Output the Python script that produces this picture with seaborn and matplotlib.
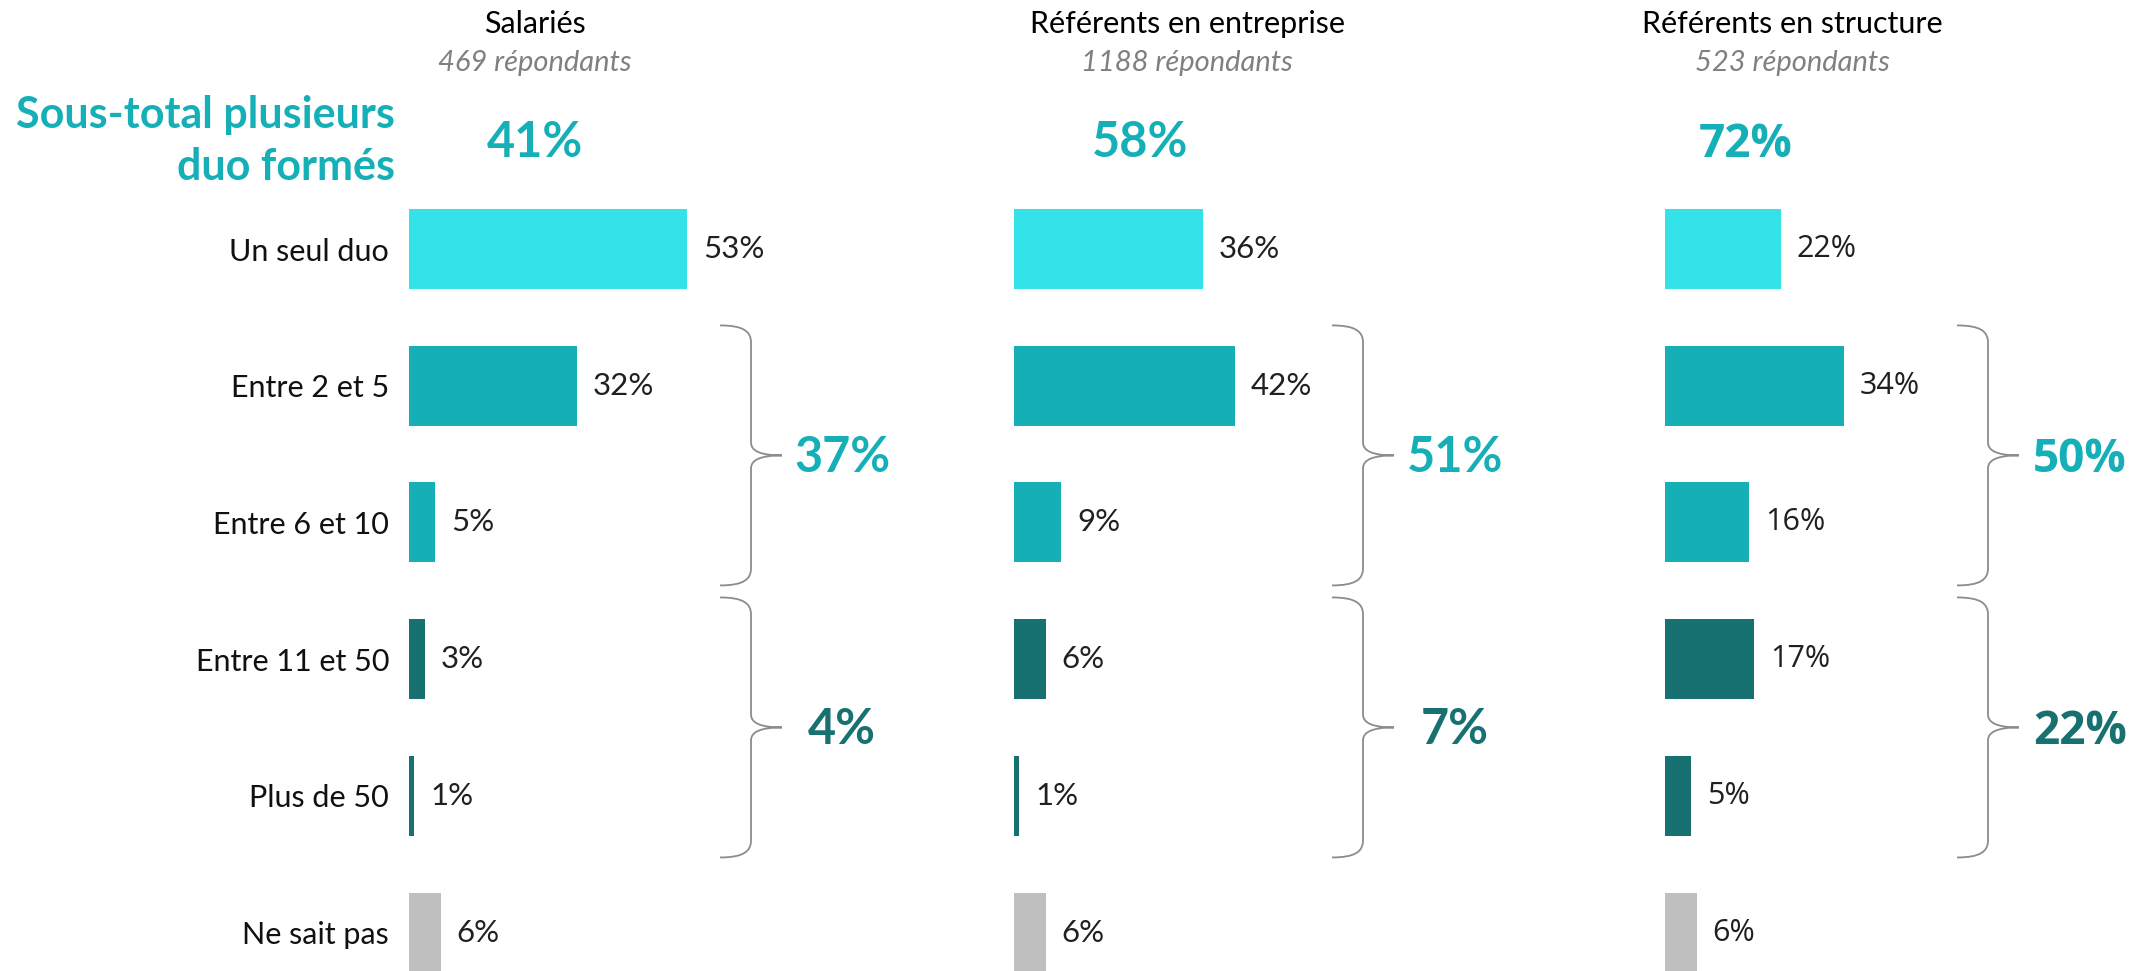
import matplotlib
matplotlib.use("Agg")
import matplotlib.pyplot as plt
from matplotlib.path import Path
from matplotlib.patches import PathPatch
import seaborn as sns
import pandas as pd

# ---------------- data ----------------
categories = ["Un seul duo", "Entre 2 et 5", "Entre 6 et 10",
              "Entre 11 et 50", "Plus de 50", "Ne sait pas"]
panel_titles = ["Salariés", "Référents en entreprise", "Référents en structure"]
respondents = ["469 répondants", "1188 répondants", "523 répondants"]
salaries = [53, 32, 5, 3, 1, 6]
ref_entreprise = [36, 42, 9, 6, 1, 6]
ref_structure = [22, 34, 16, 17, 5, 6]
subtotal_plusieurs = [41, 58, 72]
group_2_10 = [37, 51, 50]
group_11_plus = [4, 7, 22]
subtotal_label = "Sous-total plusieurs\nduo formés"

series = [salaries, ref_entreprise, ref_structure]

# ---------------- style ----------------
sns.set_style("white")
plt.rcParams["font.family"] = ["Lato", "DejaVu Sans"]

bar_colors = ["#34E2E9", "#14AFB7", "#14AFB7", "#187171", "#187171", "#BFBFBF"]
C_TEAL = "#14AFB7"
C_DARK = "#187171"
C_TEXT = "#231F20"
C_GREY = "#808080"
C_BRACE = "#8C8C8C"

W, H = 2154, 971
PX = 5.25      # pixels per percent
ROW = 136.7    # pixels per row
ROW0 = 249.0   # pixel y of first row centre
PT = 100 / 72  # px per pt

fig = plt.figure(figsize=(W / 100, H / 100), dpi=100)
fig.patch.set_facecolor("white")

panels = [
    dict(x0=409, w=560, title_dx=126, total_dx=126, brace_dx=311, label_dx=433, numfont="Lato", numsize=22.5, bigsize=35),
    dict(x0=1014, w=600, title_dx=173, total_dx=126, brace_dx=318, label_dx=441, numfont="Lato", numsize=22.5, bigsize=35),
    dict(x0=1665, w=489, title_dx=127, total_dx=81, brace_dx=292, label_dx=415, numfont="Open Sans", numsize=22, bigsize=33),
]


def X(dx):
    return dx / PX


def Y(py):
    return (py - ROW0) / ROW


def draw_brace(ax, left_dx, center_row, half_px):
    w = 31.0
    r1 = 17.0
    r2 = 13.0
    cy = center_row * ROW + ROW0
    top = cy - half_px
    bot = cy + half_px
    pts_px = [
        (0, top),
        (0.75 * w, top), (w, top + 0.35 * r1), (w, top + r1),
        (w, cy - r2),
        (w, cy - 0.35 * r2), (1.3 * w, cy), (2 * w, cy),
        (1.3 * w, cy), (w, cy + 0.35 * r2), (w, cy + r2),
        (w, bot - r1),
        (w, bot - 0.35 * r1), (0.75 * w, bot), (0, bot),
    ]
    codes = [Path.MOVETO,
             Path.CURVE4, Path.CURVE4, Path.CURVE4,
             Path.LINETO,
             Path.CURVE4, Path.CURVE4, Path.CURVE4,
             Path.CURVE4, Path.CURVE4, Path.CURVE4,
             Path.LINETO,
             Path.CURVE4, Path.CURVE4, Path.CURVE4]
    verts = [(X(left_dx + px), Y(py)) for px, py in pts_px]
    ax.add_patch(PathPatch(Path(verts, codes), facecolor="none",
                           edgecolor=C_BRACE, lw=1.3, clip_on=False))


for i, p in enumerate(panels):
    ax = fig.add_axes([p["x0"] / W, 0, p["w"] / W, 1])
    ax.patch.set_visible(False)
    df = pd.DataFrame({"category": categories, "value": series[i]})
    sns.barplot(data=df, x="value", y="category", hue="category",
                palette=bar_colors, saturation=1, width=0.585,
                legend=False, orient="h", ax=ax, linewidth=0)
    ax.set_xlim(0, X(p["w"]))
    ax.set_ylim(Y(H), Y(0))
    for s in ax.spines.values():
        s.set_visible(False)
    ax.set_xlabel("")
    ax.set_ylabel("")
    ax.set_xticks([])
    ax.tick_params(axis="y", length=0)
    if i == 0:
        ax.tick_params(axis="y", pad=20 / PT, labelsize=22, labelcolor="#111111")
    else:
        ax.tick_params(axis="y", labelleft=False)

    for c in ax.containers:
        ax.bar_label(c, fmt="{:.0f}%", padding=16 / PT, fontsize=p["numsize"],
                     color=C_TEXT, fontfamily=p["numfont"])

    # headers
    ax.text(X(p["title_dx"]), Y(33), panel_titles[i], ha="center", va="baseline",
            fontsize=22, color="black", clip_on=False)
    ax.text(X(p["title_dx"]), Y(71), respondents[i], ha="center", va="baseline",
            fontsize=21, color=C_GREY, style="italic", clip_on=False)
    ax.text(X(p["total_dx"]), Y(157), f"{subtotal_plusieurs[i]}%", ha="center",
            va="baseline", fontsize=p["bigsize"], fontweight="bold", color=C_TEAL,
            fontfamily=p["numfont"], clip_on=False)

    # braces and group totals
    draw_brace(ax, p["brace_dx"], 1.51, 130)
    draw_brace(ax, p["brace_dx"], 3.50, 130)
    ax.text(X(p["label_dx"]), 1.51 + 17 / ROW, f"{group_2_10[i]}%", ha="center",
            va="baseline", fontsize=p["bigsize"], fontweight="bold", color=C_TEAL,
            fontfamily=p["numfont"], clip_on=False)
    ax.text(X(p["label_dx"]), 3.50 + 17 / ROW, f"{group_11_plus[i]}%", ha="center",
            va="baseline", fontsize=p["bigsize"], fontweight="bold", color=C_DARK,
            fontfamily=p["numfont"], clip_on=False)

    if i == 0:
        lines = subtotal_label.split("\n")
        ax.text(X(395 - p["x0"]), Y(128), lines[0], ha="right", va="baseline",
                fontsize=31, fontweight="bold", color=C_TEAL, clip_on=False)
        ax.text(X(395 - p["x0"]), Y(180), lines[1], ha="right", va="baseline",
                fontsize=31, fontweight="bold", color=C_TEAL, clip_on=False)

fig.savefig("out.png", dpi=100, facecolor="white")
